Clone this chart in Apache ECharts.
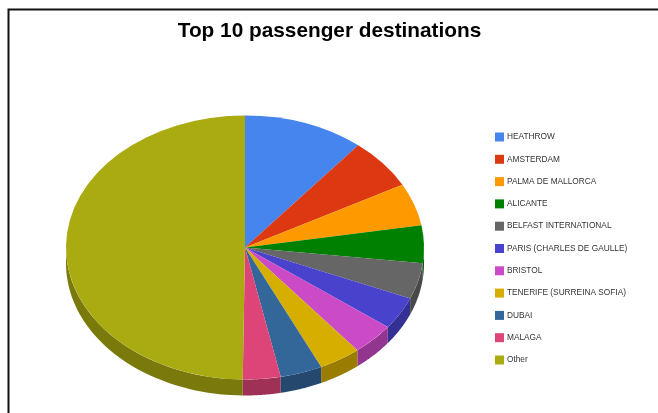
<!DOCTYPE html>
<html>
<head>
<meta charset="utf-8">
<style>html,body{margin:0;padding:0;background:#fff}#chart{width:658px;height:413px}</style>
<script src="https://cdn.jsdelivr.net/npm/echarts@6/dist/echarts.min.js"></script>
</head>
<body>
<div id="chart"></div>
<script>
const destinations = ['HEATHROW','AMSTERDAM','PALMA DE MALLORCA','ALICANTE','BELFAST INTERNATIONAL','PARIS (CHARLES DE GAULLE)','BRISTOL','TENERIFE (SURREINA SOFIA)','DUBAI','MALAGA','Other'];
const sharePercent = [10.9,6.2,5.2,4.6,4.4,4.0,3.9,3.8,3.8,3.4,49.8];
const sliceColors = ['#4684ee','#dc3912','#ff9900','#008000','#666666','#4942cc','#cb4ac5','#d6ae00','#336699','#dd4477','#aaaa11'];

// Tilted pie geometry: a circle squashed vertically, with a rim below it.
const CX = 245, CY = 247.5, RX = 179, RY = 132, DEPTH = 16;
const total = sharePercent.reduce((a, b) => a + b, 0);
const startFrac = [];
sharePercent.reduce((acc, v, i) => { startFrac[i] = acc / total; return acc + v; }, 0);
const toAngle = f => -Math.PI / 2 + f * 2 * Math.PI;

function darken(hex, k) {
  const n = parseInt(hex.slice(1), 16);
  const c = [n >> 16, (n >> 8) & 255, n & 255].map(v => Math.round(v * k));
  return `rgb(${c[0]},${c[1]},${c[2]})`;
}

// Rim: only the part of each slice's arc on the near (lower) half is visible.
function renderRim(params, api) {
  const i = params.dataIndex;
  const a0 = Math.max(toAngle(startFrac[i]), 0);
  const a1 = Math.min(toAngle(startFrac[i] + api.value(0) / total), Math.PI);
  if (a1 <= a0) return null;
  const upper = [], lower = [];
  const steps = 48;
  for (let s = 0; s <= steps; s++) {
    const a = a0 + (a1 - a0) * s / steps;
    const x = CX + RX * Math.cos(a), y = CY + RY * Math.sin(a);
    upper.push([x, y]);
    lower.unshift([x, y + DEPTH]);
  }
  return {
    type: 'polygon',
    shape: { points: upper.concat(lower) },
    style: { fill: darken(sliceColors[i], 0.72) }
  };
}

// Top face of one slice: a native sector scaled into an ellipse.
function renderTop(index) {
  return function (params, api) {
    const f = startFrac[index];
    return {
      type: 'sector',
      x: CX, y: CY, scaleY: RY / RX,
      shape: {
        cx: 0, cy: 0, r0: 0, r: RX,
        startAngle: toAngle(f),
        endAngle: toAngle(f + api.value(0) / total),
        clockwise: true
      },
      style: { fill: sliceColors[index] }
    };
  };
}

const series = [{
  type: 'custom', name: 'rim', coordinateSystem: 'none', silent: true, z: 1,
  renderItem: renderRim,
  data: sharePercent.map(v => [v])
}].concat(destinations.map((name, i) => ({
  type: 'custom', name, coordinateSystem: 'none', silent: true, z: 2,
  itemStyle: { color: sliceColors[i] },
  renderItem: renderTop(i),
  data: [[sharePercent[i]]]
})));

const chart = echarts.init(document.getElementById('chart'));
chart.setOption({
  animation: false,
  backgroundColor: '#fff',
  title: {
    text: 'Top 10 passenger destinations',
    left: 324.5, top: 16, textAlign: 'center',
    textStyle: { fontFamily: 'Liberation Sans', fontSize: 20.8, fontWeight: 'bold', color: '#000' }
  },
  legend: {
    data: destinations,
    orient: 'vertical',
    left: 495, top: 132.5, padding: 0,
    itemWidth: 9, itemHeight: 9, itemGap: 13.3,
    icon: 'rect',
    selectedMode: false,
    textStyle: { fontFamily: 'Liberation Sans', fontSize: 8.3, color: '#333', padding: [0, 0, 0, -2] }
  },
  graphic: [{
    type: 'rect', silent: true, z: 10,
    shape: { x: 8.5, y: 9.5, width: 720, height: 480 },
    style: { fill: 'none', stroke: '#111', lineWidth: 2 }
  }],
  series
});
</script>
</body>
</html>
